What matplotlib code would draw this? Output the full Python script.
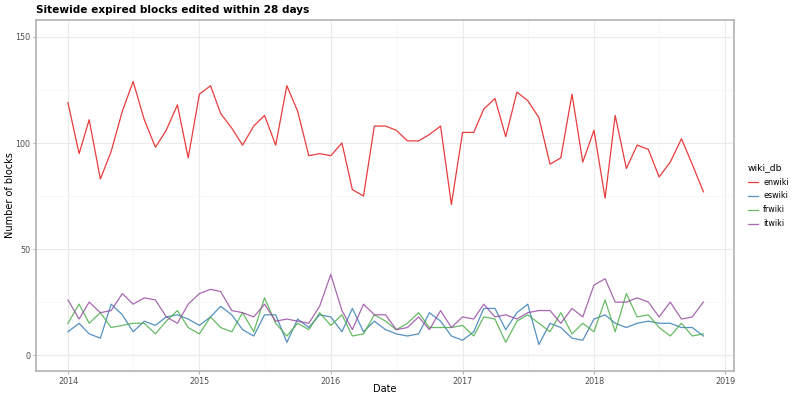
import numpy as np
import pandas as pd
import matplotlib
matplotlib.use("Agg")
import matplotlib.pyplot as plt
import matplotlib.dates as mdates
from matplotlib.lines import Line2D

dates = pd.date_range("2014-01-01", "2018-11-01", freq="MS")

enwiki = [119, 95, 111, 83, 96, 115, 129, 111, 98, 106, 118, 93,
          123, 127, 114, 107, 99, 108, 113, 99, 127, 115, 94, 95,
          94, 100, 78, 75, 108, 108, 106, 101, 101, 104, 108, 71,
          105, 105, 116, 121, 103, 124, 120, 112, 90, 93, 123, 91,
          106, 74, 113, 88, 99, 97, 84, 91, 102, 90, 77]
eswiki = [11, 15, 10, 8, 24, 19, 11, 16, 14, 18, 19, 17,
          14, 18, 23, 19, 12, 9, 19, 19, 6, 17, 13, 19,
          18, 11, 22, 11, 16, 12, 10, 9, 10, 20, 16, 9,
          7, 11, 22, 22, 12, 20, 24, 5, 15, 13, 8, 7,
          17, 19, 15, 13, 15, 16, 15, 15, 13, 13, 9]
frwiki = [15, 24, 15, 20, 13, 14, 15, 15, 10, 16, 21, 13,
          10, 18, 13, 11, 20, 11, 27, 15, 9, 15, 12, 20,
          14, 19, 9, 10, 19, 16, 12, 15, 20, 13, 13, 13,
          14, 9, 18, 17, 6, 16, 19, 15, 11, 20, 10, 15,
          11, 26, 11, 29, 18, 19, 13, 9, 15, 9, 10]
itwiki = [26, 17, 25, 20, 21, 29, 24, 27, 26, 18, 15, 24,
          29, 31, 30, 21, 20, 18, 24, 16, 17, 16, 15, 23,
          38, 21, 12, 24, 19, 19, 12, 13, 18, 12, 21, 13,
          18, 17, 24, 18, 19, 17, 20, 21, 21, 15, 22, 18,
          33, 36, 25, 25, 27, 25, 18, 25, 17, 18, 25]

series_names = ["enwiki", "eswiki", "frwiki", "itwiki"]
series_vals = [enwiki, eswiki, frwiki, itwiki]
colors = ["#E41A1C", "#377EB8", "#4DAF4A", "#984EA3"]

fig = plt.figure(figsize=(8, 4), dpi=100)
ax = fig.add_axes([0.045, 0.0725, 0.8725, 0.8775])

for name, vals, c in zip(series_names, series_vals, colors):
    ax.plot(dates, vals, color=c, lw=0.9, alpha=0.85, label=name)

years = [pd.Timestamp(f"{y}-01-01") for y in range(2014, 2020)]
ax.set_xticks(years)
ax.set_xticklabels([str(y) for y in range(2014, 2020)])
ax.set_xticks([pd.Timestamp(f"{y}-07-02") for y in range(2014, 2019)], minor=True)
ax.set_yticks([0, 50, 100, 150])
ax.set_yticks([25, 75, 125], minor=True)

x0 = mdates.date2num(pd.Timestamp("2014-01-01"))
year = 365.25
ax.set_xlim(x0 - 0.243 * year, x0 + 5.065 * year)
ax.set_ylim(-7.5, 158)

ax.grid(which="major", color="#ebebeb", lw=0.8)
ax.grid(which="minor", color="#f4f4f4", lw=0.5)
ax.set_axisbelow(True)
for s in ax.spines.values():
    s.set_color("#b3b3b3")
    s.set_linewidth(1.2)
ax.tick_params(which="major", length=2, color="#b3b3b3", labelsize=5.8,
               labelcolor="#4d4d4d", pad=2)
ax.tick_params(which="minor", length=0)

ax.set_xlabel("Date", fontsize=7)
ax.set_ylabel("Number of blocks", fontsize=7)
ax.xaxis.set_label_coords(0.5, -0.038)
ax.yaxis.set_label_coords(-0.030, 0.5)
fig.text(0.045, 0.975, "Sitewide expired blocks edited within 28 days",
         fontsize=7.6, fontweight="bold", ha="left", va="center")

handles = [Line2D([0], [0], color=c, lw=0.9, alpha=0.85) for c in colors]
leg = fig.legend(handles, series_names, title="wiki_db", loc="center left",
                 bbox_to_anchor=(0.935, 0.51), frameon=False, fontsize=5.8,
                 title_fontsize=6.6, handlelength=1.2, handletextpad=0.7,
                 labelspacing=0.62, borderpad=0, borderaxespad=0)
leg._legend_box.align = "left"

fig.savefig("out.png", dpi=100)
